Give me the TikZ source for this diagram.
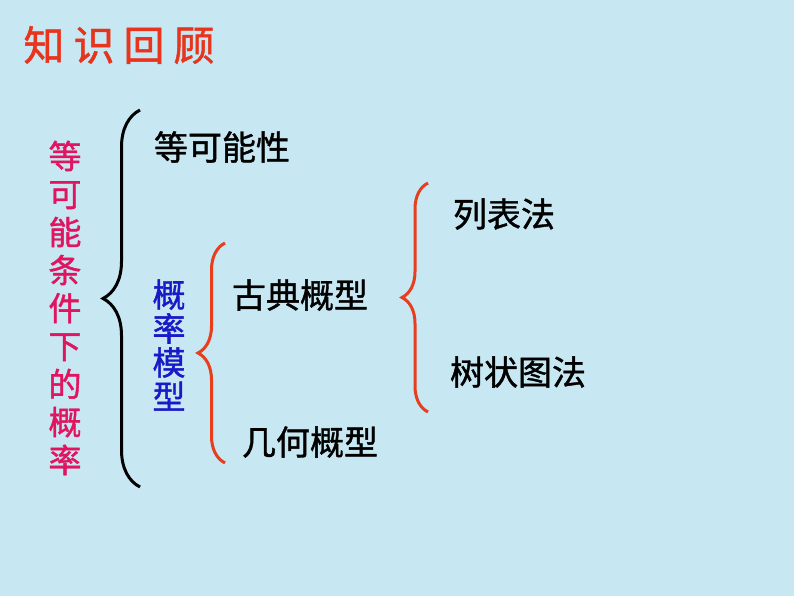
\documentclass[tikz,border=0pt]{standalone}
\usepackage{fontspec}
\newfontfamily\cjk[FakeBold=1.2]{Noto Sans CJK SC}
\usetikzlibrary{decorations.pathreplacing}
\definecolor{bgblue}{RGB}{199,231,242}
\definecolor{titlered}{RGB}{232,52,28}
\definecolor{colmagenta}{RGB}{225,20,95}
\definecolor{colblue}{RGB}{25,25,200}
\definecolor{bracered}{RGB}{232,62,30}

\begin{document}
\begin{tikzpicture}[x=1pt, y=1pt,
    title/.style={text=titlered, font=\cjk\fontsize{41}{41}\selectfont, inner sep=0pt},
    vcol/.style={align=center, inner sep=0pt},
    item/.style={font=\cjk\fontsize{34}{34}\selectfont, inner sep=0pt},
    curly/.style={decorate, decoration={brace, amplitude=#1}, line width=3pt},
    curly/.default=37pt]
  \fill[bgblue] (0,0) rectangle (794,596);
  \useasboundingbox (0,0) rectangle (794,596);
  \node[title] (title) at (119,551) {知\hspace{9pt}识\hspace{9pt}回\hspace{9pt}顾};
  % left column
  \node[vcol, text=colmagenta, font=\cjk\fontsize{33}{38}\selectfont] (cond) at (65,288)
    {等\\可\\能\\条\\件\\下\\的\\概\\率};
  \coordinate (b1s) at (140,109);
  \coordinate (b1e) at (140,486);
  \draw[curly] (b1s) -- (b1e);
  \node[item] (eqp) at (222,449) {等可能性};
  % probability models
  \node[vcol, text=colblue, font=\cjk\fontsize{33}{34}\selectfont] (model) at (169,251)
    {概\\率\\模\\型};
  \coordinate (b2s) at (225,133);
  \coordinate (b2e) at (225,353);
  \draw[curly=27pt, draw=bracered] (b2s) -- (b2e);
  \node[item] (classic) at (300,301) {古典概型};
  \node[item] (geom) at (310,154) {几何概型};
  % methods
  \coordinate (b3s) at (428,184);
  \coordinate (b3e) at (428,413);
  \draw[curly=26pt, draw=bracered] (b3s) -- (b3e);
  \node[item] (table) at (504,382) {列表法};
  \node[item] (tree) at (518,224) {树状图法};
\end{tikzpicture}
\end{document}
